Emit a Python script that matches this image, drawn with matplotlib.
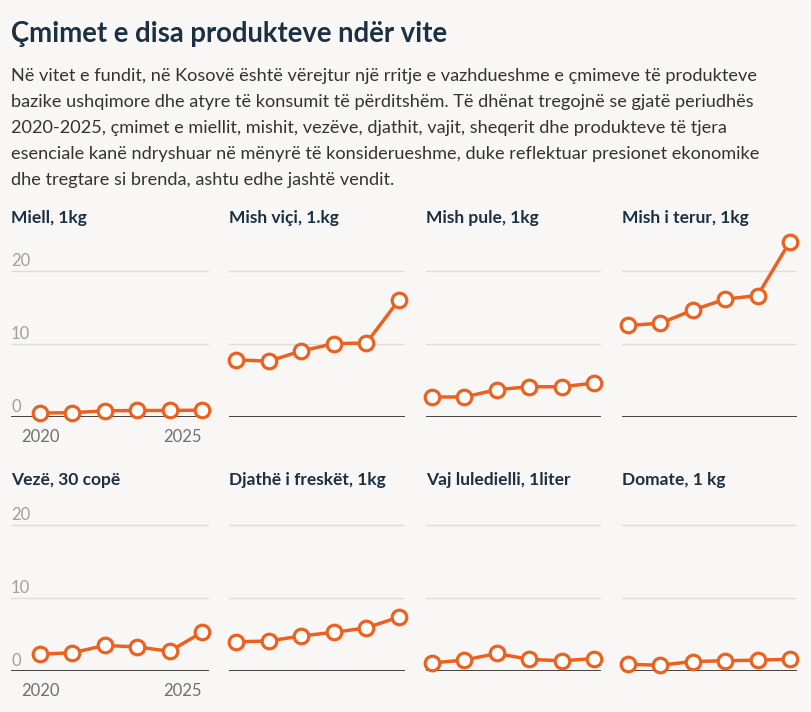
import matplotlib
matplotlib.use("Agg")
import matplotlib.pyplot as plt

years = [2020, 2021, 2022, 2023, 2024, 2025]
titles = ["Miell, 1kg", "Mish viçi, 1.kg", "Mish pule, 1kg", "Mish i terur, 1kg",
          "Vezë, 30 copë", "Djathë i freskët, 1kg", "Vaj lulediellli, 1liter".replace("lll", "ll"), "Domate, 1 kg"]
miell = [0.5, 0.55, 0.8, 0.85, 0.85, 0.9]
mish_vici = [7.8, 7.6, 9.0, 10.0, 10.1, 16.0]
mish_pule = [2.7, 2.7, 3.7, 4.1, 4.1, 4.6]
mish_terur = [12.5, 12.8, 14.6, 16.1, 16.6, 24.0]
veze = [2.3, 2.5, 3.5, 3.3, 2.7, 5.3]
djathe = [4.0, 4.1, 4.8, 5.3, 5.9, 7.4]
vaj = [1.1, 1.5, 2.4, 1.6, 1.4, 1.7]
domate = [0.9, 0.8, 1.3, 1.4, 1.5, 1.6]
series = [miell, mish_vici, mish_pule, mish_terur, veze, djathe, vaj, domate]
yticks = [0, 10, 20]
xtick_labels = ["2020", "2025"]

title = "Çmimet e disa produkteve ndër vite"
desc_lines = [
    "Në vitet e fundit, në Kosovë është vërejtur një rritje e vazhdueshme e çmimeve të produkteve",
    "bazike ushqimore dhe atyre të konsumit të përditshëm. Të dhënat tregojnë se gjatë periudhës",
    "2020-2025, çmimet e miellit, mishit, vezëve, djathit, vajit, sheqerit dhe produkteve të tjera",
    "esenciale kanë ndryshuar në mënyrë të konsiderueshme, duke reflektuar presionet ekonomike",
    "dhe tregtare si brenda, ashtu edhe jashtë vendit.",
]

BG = "#f8f7f5"
ORANGE = "#eb6120"
NAVY = "#1b3042"
W, H = 812, 712
fig = plt.figure(figsize=(W / 100, H / 100), dpi=100, facecolor=BG)
FONT = "Lato"

fig.text(11 / W, 1 - 34 / H, title, fontsize=19.8, fontweight="bold", color=NAVY,
         family=FONT, va="center", ha="left")
for i, line in enumerate(desc_lines):
    fig.text(11 / W, 1 - (76 + 26 * i) / H, line, fontsize=13.05, color="#333333",
             family=FONT, va="center", ha="left")

# column geometry in pixels: axes left, axes right, x of 2020, x of 2025
cols = [(11, 209, 40, 202), (229, 405, 236, 399), (426, 601, 432, 594), (622, 797, 628, 790)]
rows = [416.7, 671.0]  # baseline pixel y
title_y = [218, 480]
ppu = 7.3  # px per unit
ytop = 26

for idx, vals in enumerate(series):
    r, c = divmod(idx, 4)
    L, R, p0, p1 = cols[c]
    s = (p1 - p0) / 5.0
    base = rows[r]
    ax = fig.add_axes([L / W, 1 - base / H, (R - L) / W, ytop * ppu / H])
    ax.set_facecolor("none")
    ax.set_xlim(2020 - (p0 - L) / s, 2025 + (R - p1) / s)
    ax.set_ylim(0, ytop)
    for sp in ax.spines.values():
        sp.set_visible(False)
    ax.set_xticks([])
    ax.set_yticks([])
    for yt in yticks[1:]:
        ax.axhline(yt, color="#dedddb", lw=1, zorder=1)
    ax.axhline(0, color="#333333", lw=1.3, zorder=2)
    ax.plot(years, vals, color=ORANGE, lw=2.5, marker="o", ms=10.5,
            mfc="white", mec=ORANGE, mew=2.3, zorder=3, clip_on=False)
    fig.text(L / W, 1 - title_y[r] / H, titles[idx], fontsize=12.5, fontweight="bold",
             color=NAVY, family=FONT, va="center", ha="left")
    if c == 0:
        for yt in yticks:
            ax.text(0, yt + 0.7, str(yt), transform=ax.get_yaxis_transform(),
                    fontsize=12, color="#a0a0a0", family=FONT, va="baseline", ha="left")
        ax.text(years[0], -1.7, xtick_labels[0], fontsize=12, color="#707070",
                family=FONT, va="top", ha="center")
        ax.text(years[-1], -1.7, xtick_labels[1], fontsize=12, color="#707070",
                family=FONT, va="top", ha="right")

fig.savefig("out.png", dpi=100, facecolor=BG)
